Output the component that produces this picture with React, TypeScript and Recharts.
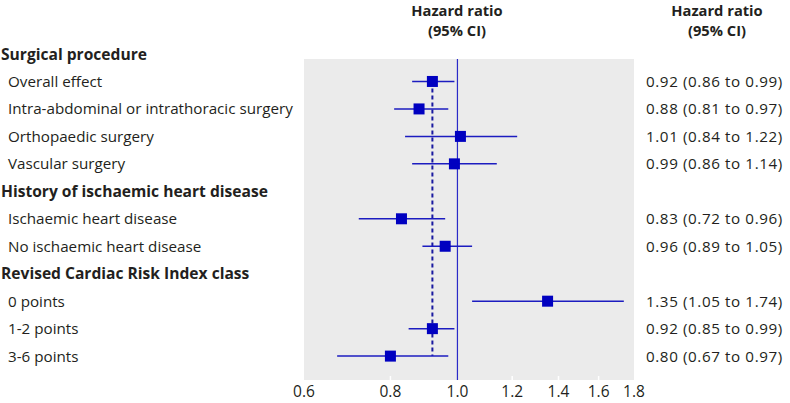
import React from 'react';
import {
  ScatterChart, Scatter, XAxis, YAxis, ErrorBar, ReferenceArea, ReferenceLine,
} from 'recharts';

// Row labels (top to bottom); headers are bold
const rowLabels = [
  'Surgical procedure',
  'Overall effect',
  'Intra-abdominal or intrathoracic surgery',
  'Orthopaedic surgery',
  'Vascular surgery',
  'History of ischaemic heart disease',
  'Ischaemic heart disease',
  'No ischaemic heart disease',
  'Revised Cardiac Risk Index class',
  '0 points',
  '1-2 points',
  '3-6 points',
];
const headerRows = [0, 5, 8];

// Estimates per item row
const itemRows = [1, 2, 3, 4, 6, 7, 9, 10, 11];
const hr = [0.92, 0.88, 1.01, 0.99, 0.83, 0.96, 1.35, 0.92, 0.8];
const ciLow = [0.86, 0.81, 0.84, 0.86, 0.72, 0.89, 1.05, 0.85, 0.67];
const ciHigh = [0.99, 0.97, 1.22, 1.14, 0.96, 1.05, 1.74, 0.99, 0.97];

const xTicks = [0.6, 0.8, 1.0, 1.2, 1.4, 1.6, 1.8];
const overallHr = 0.92;

const data = itemRows.map((row, i) => ({
  row,
  hr: hr[i],
  err: [+(hr[i] - ciLow[i]).toFixed(4), +(ciHigh[i] - hr[i]).toFixed(4)],
}));

const rowTicks = rowLabels.map((_, i) => i);
const ciText = rowLabels.map((_, i) => {
  const k = itemRows.indexOf(i);
  if (k < 0) return '';
  return `${hr[k].toFixed(2)} (${ciLow[k].toFixed(2)} to ${ciHigh[k].toFixed(2)})`;
});

const FONT = '"Open Sans", sans-serif';
const TEXT = '#231f20';
const BLUE = '#0000c0';
const W = 790;
const H = 403;
const Y_DOMAIN: [number, number] = [0, 11.87];
const GREY_TOP = 0.18;

const LeftTick = (props: any) => {
  const { y, payload } = props;
  const i = payload.value;
  const isHeader = headerRows.includes(i);
  return (
    <text
      x={isHeader ? 1 : 8}
      y={y}
      dy="0.36em"
      fontFamily={FONT}
      fontSize={isHeader ? 15.6 : 15.2}
      fontWeight={isHeader ? 700 : 400}
      fill={TEXT}
      textAnchor="start"
    >
      {rowLabels[i]}
    </text>
  );
};

const RightTick = (props: any) => {
  const { y, payload } = props;
  const i = payload.value;
  return (
    <text x={W - 144} y={y} dy="0.36em" fontFamily={FONT} fontSize={15.2} letterSpacing={0.6} fill={TEXT} textAnchor="start">
      {ciText[i]}
    </text>
  );
};

const XTick = (props: any) => {
  const { x, y, payload } = props;
  const v = payload.value;
  return (
    <g>
      {v !== 1 && v !== 0.6 && v !== 1.8 && (
        <line x1={x} x2={x} y1={y - 12} y2={y - 8} stroke="#ffffff" strokeWidth={1.5} />
      )}
      <text x={x} y={y} dy={8.5} fontFamily={FONT} fontSize={15.5} fill={TEXT} textAnchor="middle">
        {v.toFixed(1)}
      </text>
    </g>
  );
};

const Square = (props: any) => {
  const { cx, cy } = props;
  const s = 11;
  return <rect x={cx - s / 2} y={cy - s / 2} width={s} height={s} fill={BLUE} />;
};

const headerStyle: React.CSSProperties = {
  position: 'absolute',
  top: 0,
  width: 160,
  textAlign: 'center',
  fontFamily: FONT,
  fontWeight: 700,
  fontSize: 14.7,
  lineHeight: '20px',
  color: TEXT,
};

export default function App() {
  return (
    <div style={{ position: 'absolute', left: 0, top: 0, width: W, height: H, background: '#fff' }}>
      <div style={{ ...headerStyle, left: 457 - 80 }}>Hazard ratio<br />(95% CI)</div>
      <div style={{ ...headerStyle, left: 717 - 80 }}>Hazard ratio<br />(95% CI)</div>
      <ScatterChart width={W} height={H} margin={{ top: 54, right: 0, bottom: 0, left: 0 }}>
        <XAxis
          type="number"
          dataKey="hr"
          scale="log"
          domain={[0.6, 1.8]}
          ticks={xTicks}
          allowDataOverflow
          axisLine={false}
          tickLine={false}
          height={23}
          tick={<XTick />}
          interval={0}
        />
        <YAxis
          yAxisId="l"
          type="number"
          dataKey="row"
          domain={Y_DOMAIN}
          reversed
          ticks={rowTicks}
          interval={0}
          width={304}
          axisLine={false}
          tickLine={false}
          tick={<LeftTick />}
          allowDataOverflow
        />
        <YAxis
          yAxisId="r"
          orientation="right"
          type="number"
          domain={Y_DOMAIN}
          reversed
          ticks={rowTicks}
          interval={0}
          width={156}
          axisLine={false}
          tickLine={false}
          tick={<RightTick />}
          allowDataOverflow
        />
        <ReferenceArea yAxisId="l" x1={0.6} x2={1.8} y1={GREY_TOP} y2={Y_DOMAIN[1]} fill="#ebebeb" fillOpacity={1} stroke="none" />
        <ReferenceLine
          yAxisId="l"
          segment={[{ x: 1, y: GREY_TOP }, { x: 1, y: Y_DOMAIN[1] }]}
          stroke="#2a2ac8"
          strokeWidth={1.2}
        />
        <ReferenceLine
          yAxisId="l"
          segment={[{ x: overallHr, y: itemRows[0] }, { x: overallHr, y: itemRows[itemRows.length - 1] }]}
          stroke="#1a1aa0"
          strokeWidth={2}
          strokeDasharray="4 3"
        />
        <Scatter yAxisId="l" data={data} dataKey="hr" shape={<Square />} isAnimationActive={false}>
          <ErrorBar dataKey="err" direction="x" width={0} stroke="#1c1cc0" strokeWidth={1.5} />
        </Scatter>
      </ScatterChart>
    </div>
  );
}
